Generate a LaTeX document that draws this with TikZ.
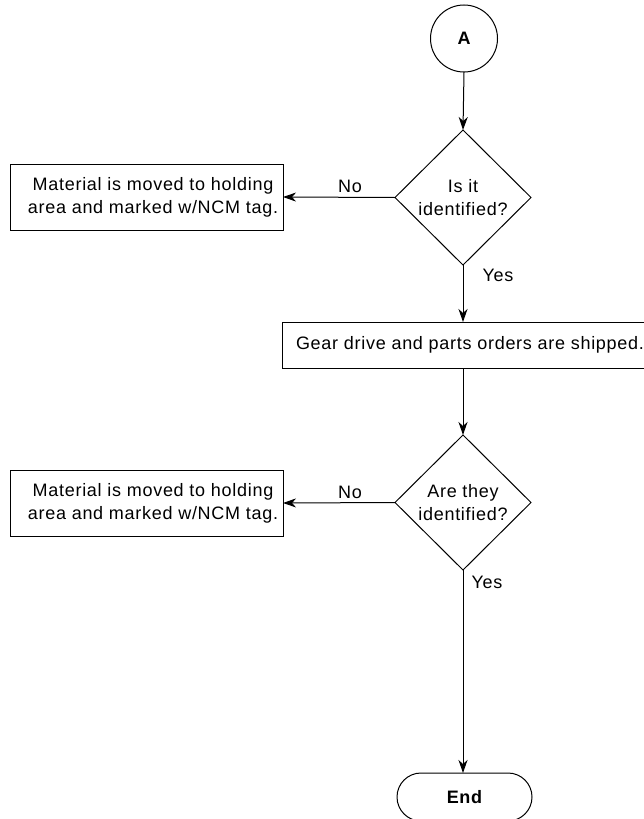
\documentclass[tikz,border=0pt]{standalone}
\usepackage{fontspec}
\setmainfont{Liberation Sans}[LetterSpace=4]
\usetikzlibrary{shapes.geometric,arrows.meta}
\begin{document}
\begin{tikzpicture}[x=1pt,y=-1pt,
  every node/.style={inner sep=0pt,outer sep=0pt,font=\fontsize{18}{23}\selectfont},
  proc/.style={draw,line width=1pt,align=center,anchor=center},
  dec/.style={draw,line width=1pt,diamond,aspect=1,align=center,minimum width=136pt,minimum height=135pt},
  conn/.style={line width=1pt,-{Stealth[length=13pt,width=9pt,inset=4pt]}},
  lbl/.style={anchor=center}]
\useasboundingbox (0,0) rectangle (643,819);
\node[draw,circle,line width=1pt,minimum size=67pt,font=\fontsize{18}{20}\bfseries\selectfont] (A) at (464,38.5) {A};
\node[dec] (d1) at (463,197.5) {Is it\\identified?};
\node[proc,minimum width=273pt,minimum height=66pt] (b1) at (146.5,197) {\hspace*{13pt}Material is moved to holding\\\hspace*{13pt}area and marked w/NCM tag.};
\node[proc,minimum width=376pt,minimum height=46pt] (b2) at (470,345) {Gear drive and parts orders are shipped.};
\node[dec] (d2) at (463,502.5) {Are they\\identified?};
\node[proc,minimum width=273pt,minimum height=66pt] (b3) at (146.5,503) {\hspace*{13pt}Material is moved to holding\\\hspace*{13pt}area and marked w/NCM tag.};
\node[draw,line width=1pt,rounded corners=24pt,minimum width=135pt,minimum height=48pt,font=\fontsize{18}{20}\bfseries\selectfont] (E) at (464.5,797) {End};
\draw[conn] (A.south) -- (d1.north);
\draw[conn] (d1.west) -- (b1.east);
\draw[conn] (d1.south) -- (d1.south |- b2.north);
\draw[conn] (d1.south |- b2.south) -- (d2.north);
\draw[conn] (d2.west) -- (b3.east);
\draw[conn] (d2.south) -- (d2.south |- E.north);
\node[lbl] (n1) at (350,186) {No};
\node[lbl] (y1) at (498,275) {Yes};
\node[lbl] (n2) at (350,492) {No};
\node[lbl] (y2) at (487,582) {Yes};
\end{tikzpicture}
\end{document}
